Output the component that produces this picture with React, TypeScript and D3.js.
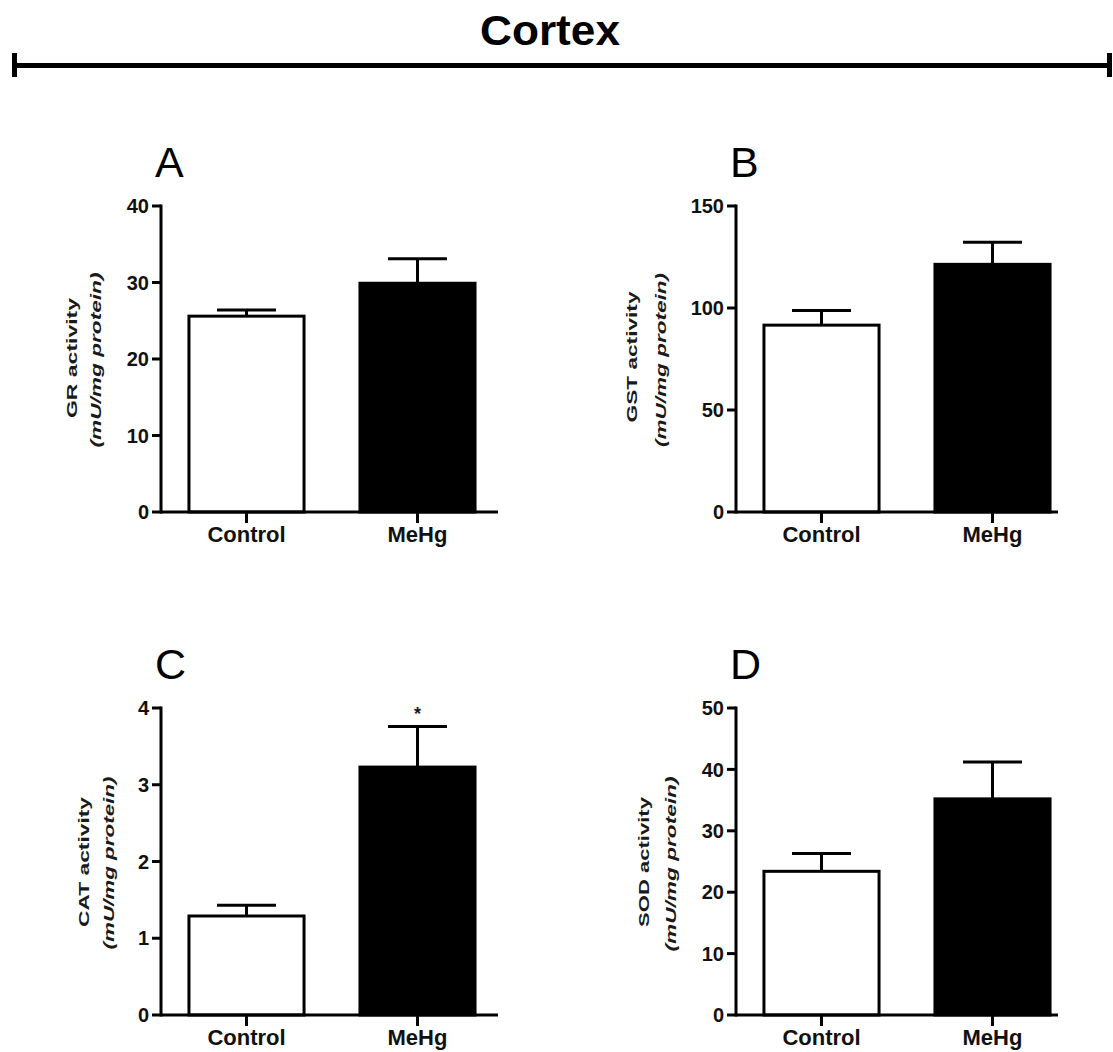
import React from "react";
import * as d3 from "d3";

const categories = ["Control", "MeHg"];

const grValues = [25.6, 29.9];
const grErrors = [0.8, 3.2];
const grTicks = [0, 10, 20, 30, 40];

const gstValues = [91.6, 121.4];
const gstErrors = [7.2, 10.8];
const gstTicks = [0, 50, 100, 150];

const catValues = [1.29, 3.23];
const catErrors = [0.14, 0.53];
const catTicks = [0, 1, 2, 3, 4];

const sodValues = [23.4, 35.2];
const sodErrors = [2.9, 6.0];
const sodTicks = [0, 10, 20, 30, 40, 50];

const FONT = "'Liberation Sans', Arial, Helvetica, sans-serif";

type PanelProps = {
  letter: string;
  ox: number;
  top: number;
  zero: number;
  axisEnd: number;
  ticks: number[];
  values: number[];
  errors: number[];
  label1: string;
  label2: string;
  l1x: number;
  l2x: number;
  l1y: number;
  l2y: number;
  l1len: number;
  l2len: number;
  star?: boolean[];
};

function Panel(p: PanelProps) {
  const max = p.ticks[p.ticks.length - 1];
  const y = d3.scaleLinear().domain([0, max]).range([p.zero, p.top]);
  const x = d3
    .scaleBand<string>()
    .domain(categories)
    .range([p.ox, p.ox + 342])
    .paddingInner(0.327)
    .paddingOuter(0.1635);
  const bw = x.bandwidth();
  const capW = 59;
  return (
    <g>
      <text x={p.ox - 6} y={p.top - 29} fontFamily={FONT} fontSize={43} fill="#000">
        {p.letter}
      </text>
      {/* y label */}
      <text
        transform={`translate(${p.l1x},${p.l1y}) rotate(-90)`}
        textAnchor="middle"
        fontFamily={FONT}
        fontWeight="bold"
        fontSize={14}
        fill="#1a1a1a"
        textLength={p.l1len}
        lengthAdjust="spacingAndGlyphs"
      >
        {p.label1}
      </text>
      <text
        transform={`translate(${p.l2x},${p.l2y}) rotate(-90)`}
        textAnchor="middle"
        fontFamily={FONT}
        fontWeight="bold"
        fontStyle="italic"
        fontSize={14}
        fill="#1a1a1a"
        textLength={p.l2len}
        lengthAdjust="spacingAndGlyphs"
      >
        {p.label2}
      </text>
      {/* bars */}
      {categories.map((c, i) => {
        const x0 = x(c)!;
        const v = p.values[i];
        const e = p.errors[i];
        const cx = x0 + bw / 2;
        return (
          <g key={c}>
            <line x1={cx} x2={cx} y1={y(v)} y2={y(v + e)} stroke="#000" strokeWidth={3} />
            <line
              x1={cx - capW / 2}
              x2={cx + capW / 2}
              y1={y(v + e)}
              y2={y(v + e)}
              stroke="#000"
              strokeWidth={3}
            />
            <rect
              x={x0}
              y={y(v)}
              width={bw}
              height={p.zero - y(v)}
              fill={i === 0 ? "#fff" : "#000"}
              stroke="#000"
              strokeWidth={3}
            />
            {p.star && p.star[i] ? (
              <text
                x={cx}
                y={y(v + e) - 6}
                textAnchor="middle"
                fontFamily={FONT}
                fontWeight="bold"
                fontSize={18}
                fill="#1a1a1a"
              >
                *
              </text>
            ) : null}
            <line x1={cx} x2={cx} y1={p.zero} y2={p.zero + 11} stroke="#000" strokeWidth={3} />
            <text
              x={cx}
              y={p.zero + 30}
              textAnchor="middle"
              fontFamily={FONT}
              fontWeight="bold"
              fontSize={22}
              fill="#111"
            >
              {c}
            </text>
          </g>
        );
      })}
      {/* y axis */}
      <line x1={p.ox} x2={p.ox} y1={p.top - 1.5} y2={p.zero + 1.5} stroke="#000" strokeWidth={3} />
      {p.ticks.map((t) => (
        <g key={t}>
          <line x1={p.ox - 9} x2={p.ox} y1={y(t)} y2={y(t)} stroke="#000" strokeWidth={3} />
          <text
            x={p.ox - 12}
            y={y(t)}
            dy="0.36em"
            textAnchor="end"
            fontFamily={FONT}
            fontWeight="bold"
            fontSize={20}
            fill="#111"
          >
            {t}
          </text>
        </g>
      ))}
      {/* x axis */}
      <line x1={p.ox} x2={p.axisEnd} y1={p.zero} y2={p.zero} stroke="#000" strokeWidth={3} />
    </g>
  );
}

export default function App() {
  return (
    <svg
      width={1113}
      height={1052}
      style={{ position: "absolute", left: 0, top: 0, background: "#fff" }}
    >
      <rect width={1113} height={1052} fill="#fff" />
      <text
        x={550}
        y={45}
        textAnchor="middle"
        fontFamily={FONT}
        fontWeight="bold"
        fontSize={42}
        fill="#000"
        textLength={140}
        lengthAdjust="spacingAndGlyphs"
      >
        Cortex
      </text>
      <line x1={13} x2={1110} y1={65.5} y2={65.5} stroke="#000" strokeWidth={5} />
      <line x1={14.5} x2={14.5} y1={53} y2={77} stroke="#000" strokeWidth={5} />
      <line x1={1109.5} x2={1109.5} y1={53} y2={77} stroke="#000" strokeWidth={5} />

      <Panel
        letter="A"
        ox={161}
        top={206}
        zero={512}
        axisEnd={498}
        ticks={grTicks}
        values={grValues}
        errors={grErrors}
        label1="GR activity"
        label2="(mU/mg protein)"
        l1x={77}
        l2x={101}
        l1y={358}
        l2y={360}
        l1len={120}
        l2len={175}
      />
      <Panel
        letter="B"
        ox={736}
        top={206}
        zero={512}
        axisEnd={1058}
        ticks={gstTicks}
        values={gstValues}
        errors={gstErrors}
        label1="GST activity"
        label2="(mU/mg protein)"
        l1x={637}
        l2x={666}
        l1y={357}
        l2y={360}
        l1len={131}
        l2len={174}
      />
      <Panel
        letter="C"
        ox={161}
        top={708}
        zero={1015}
        axisEnd={498}
        ticks={catTicks}
        values={catValues}
        errors={catErrors}
        label1="CAT activity"
        label2="(mU/mg protein)"
        l1x={89}
        l2x={114}
        l1y={862}
        l2y={863}
        l1len={130}
        l2len={173}
        star={[false, true]}
      />
      <Panel
        letter="D"
        ox={736}
        top={708}
        zero={1015}
        axisEnd={1058}
        ticks={sodTicks}
        values={sodValues}
        errors={sodErrors}
        label1="SOD activity"
        label2="(mU/mg protein)"
        l1x={649}
        l2x={676}
        l1y={862}
        l2y={864}
        l1len={130}
        l2len={175}
      />
    </svg>
  );
}
